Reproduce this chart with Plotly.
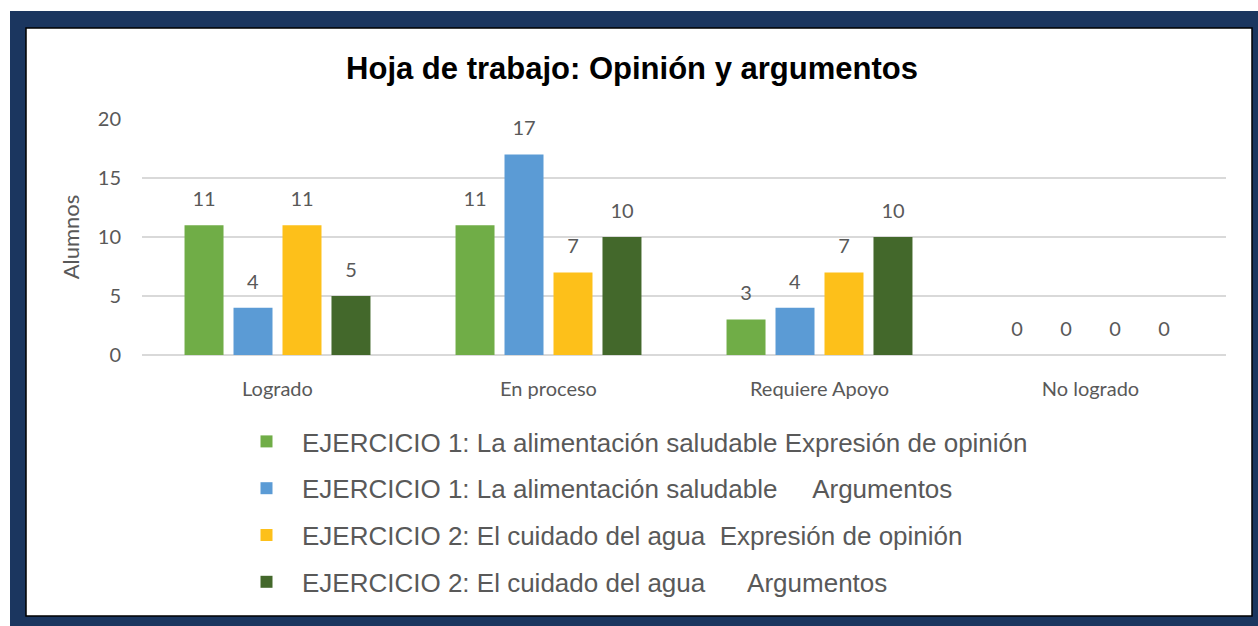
import plotly.graph_objects as go

categorias = ["Logrado", "En proceso", "Requiere Apoyo", "No logrado"]
series = [
    "EJERCICIO 1: La alimentación saludable Expresión de opinión",
    "EJERCICIO 1: La alimentación saludable     Argumentos",
    "EJERCICIO 2: El cuidado del agua  Expresión de opinión",
    "EJERCICIO 2: El cuidado del agua      Argumentos",
]
ej1_opinion = [11, 11, 3, 0]
ej1_argumentos = [4, 17, 4, 0]
ej2_opinion = [11, 7, 7, 0]
ej2_argumentos = [5, 10, 10, 0]
valores = [ej1_opinion, ej1_argumentos, ej2_opinion, ej2_argumentos]
colores = ["#70AD47", "#5B9BD5", "#FDC01A", "#43682B"]

W, H = 1258, 626
L, R, T, B = 142, 32, 119, 271
pw, ph = W - L - R, H - T - B


def px_x(p):
    return (p - L) / pw


def px_y(p):
    return (H - B - p) / ph


fig = go.Figure()
for i, (nombre, vals) in enumerate(zip(series, valores)):
    fig.add_trace(go.Bar(
        x=categorias, y=vals, name=nombre,
        marker=dict(color=colores[i], line=dict(width=0)),
        text=vals, texttemplate="<span style='font-size:20px'>%{y}</span><br> ",
        textposition="outside", cliponaxis=False,
        textfont=dict(family="Lato, sans-serif", size=11, color="#595959"),
        legendgroup=str(i),
    ))

# marco azul oscuro
fig.add_shape(type="rect", xref="paper", yref="paper", layer="below",
              x0=px_x(10), x1=px_x(1262), y0=px_y(630), y1=px_y(11),
              fillcolor="#1B365F", line=dict(width=0))
fig.add_shape(type="rect", xref="paper", yref="paper", layer="below",
              x0=px_x(26), x1=px_x(1252), y0=px_y(616), y1=px_y(28),
              fillcolor="white", line=dict(color="black", width=1.5))

fig.update_layout(
    width=W, height=H,
    margin=dict(l=L, r=R, t=T, b=B),
    paper_bgcolor="white", plot_bgcolor="rgba(0,0,0,0)",
    barmode="group", bargap=0.277, bargroupgap=0.204,
    title=dict(text="<b>Hoja de trabajo: Opinión y argumentos</b>",
               x=632 / W, xref="container", xanchor="center",
               y=1 - 68 / H, yanchor="middle",
               font=dict(family="Liberation Sans, Arial", size=31, color="black")),
    xaxis=dict(showgrid=False, showline=False, ticks="",
               tickfont=dict(family="Lato, sans-serif", size=20, color="#595959"),
               ticklabelstandoff=20),
    yaxis=dict(range=[0, 20], dtick=5, showline=False, ticks="",
               gridcolor="#D9D9D9", gridwidth=1.5,
               zeroline=True, zerolinecolor="#D9D9D9", zerolinewidth=1.5,
               tickfont=dict(family="Lato, sans-serif", size=20, color="#595959"),
               ticklabelstandoff=20,
               title=dict(text="Alumnos", standoff=12,
                          font=dict(family="Lato, sans-serif", size=22, color="#595959"))),
    legend=dict(orientation="v", x=px_x(231), xanchor="left", y=px_y(418), yanchor="top",
                traceorder="grouped", tracegroupgap=10, itemwidth=61,
                font=dict(family="Liberation Sans, Arial", size=26, color="#595959"),
                bgcolor="rgba(0,0,0,0)"),
    showlegend=True,
)

fig.write_html("out.html", config={"displayModeBar": False},
               post_script="document.body.style.margin='0';")
